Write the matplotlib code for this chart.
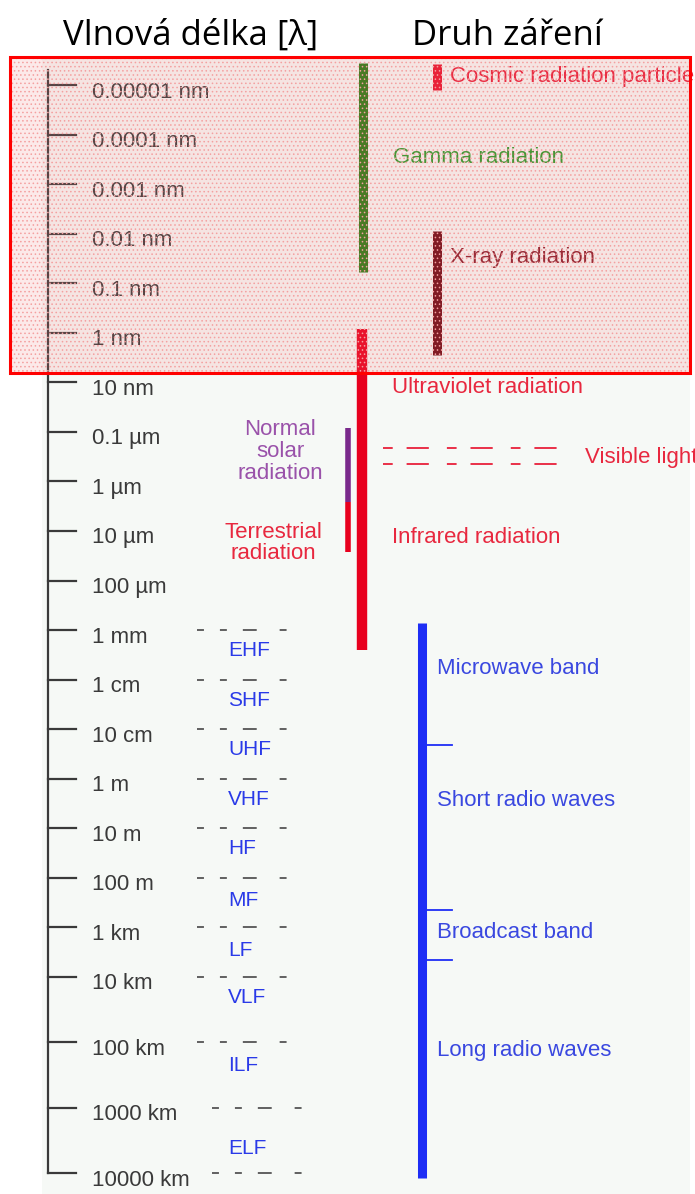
import numpy as np
import matplotlib.pyplot as plt
from matplotlib.patches import Rectangle
from matplotlib.transforms import ScaledTranslation

plt.rcParams['lines.scale_dashes'] = False
plt.rcParams['hatch.linewidth'] = 0.6

# wavelength scale, log10 of metres
tick_exp = list(range(-14, 8))
tick_labels = ['0.00001 nm', '0.0001 nm', '0.001 nm', '0.01 nm', '0.1 nm', '1 nm',
               '10 nm', '0.1 µm', '1 µm', '10 µm', '100 µm', '1 mm', '1 cm',
               '10 cm', '1 m', '10 m', '100 m', '1 km', '10 km', '100 km',
               '1000 km', '10000 km']

# radiation ranges (log10 m): start, end
rad_names = ['gamma', 'cosmic', 'xray', 'uv_ir', 'solar', 'terrestrial', 'radio']
rad_start = [-14.44, -14.42, -11.05, -9.08, -7.08, -5.58, -3.14]
rad_end = [-10.23, -13.90, -8.55, -2.60, -5.58, -4.58, 7.08]
rad_x = [363, 437, 437, 362, 348, 348, 422]
rad_w = [6.5, 6.5, 6.5, 7.5, 4, 4, 6.5]
rad_col = ['#2a7a14', '#e8102c', '#6b0a14', '#e8001e', '#7a2a8c', '#e8001e', '#1e2ef5']

# radio sub-division marks on the blue bar
radio_marks = [-0.68, 2.65, 3.66]
# visible light band
visible = [-6.67, -6.35]

# radio frequency bands between decades
band_names = ['EHF', 'SHF', 'UHF', 'VHF', 'HF', 'MF', 'LF', 'VLF', 'ILF', 'ELF']
band_label_exp = [-2.58, -1.57, -0.58, 0.41, 1.40, 2.45, 3.46, 4.32, 5.35, 6.62]
band_edges = list(range(-3, 8))

# kinds of radiation labels
kind_text = ['Cosmic radiation particles', 'Gamma radiation', 'X-ray radiation',
             'Ultraviolet radiation', 'Visible light', 'Infrared radiation',
             'Microwave band', 'Short radio waves', 'Broadcast band',
             'Long radio waves']
kind_exp = [-14.18, -12.53, -10.51, -7.89, -6.49, -4.86, -2.23, 0.43, 3.11, 5.12]
kind_x = [450, 393, 450, 392, 585, 392, 437, 437, 437, 437]
kind_col = ['#e8203a', '#2a9a2a', '#8a1c2a', '#e8283f', '#e8283f', '#e8283f',
            '#3a48e0', '#3a48e0', '#3a48e0', '#3a48e0']

# piecewise linear scale (decades get wider below 10 km)
P0, S1, S2 = 85.0, 49.55, 65.37
P4 = P0 + 18 * S1


def fwd(e):
    e = np.asarray(e, dtype=float)
    return np.where(e <= 4, P0 + S1 * (e + 14), P4 + S2 * (e - 4))


def inv(p):
    p = np.asarray(p, dtype=float)
    return np.where(p <= P4, -14 + (p - P0) / S1, 4 + (p - P4) / S2)


fig = plt.figure(figsize=(6.95, 11.94), dpi=100)
ax = fig.add_axes([0, 0, 1, 1])
ax.set_yscale('function', functions=(fwd, inv))
ax.set_xlim(0, 695)
ax.set_ylim(float(inv(1194)), float(inv(0)))
ax.axis('off')

font = ['Liberation Sans', 'DejaVu Sans']

# picture background
bg = Rectangle((42, float(inv(57))), 648, float(inv(1194) - inv(57)),
               facecolor='#f6f9f6', edgecolor='none', zorder=0)
ax.add_patch(bg)

# wavelength axis
ax.plot([48, 48], [-14.30, 7], color='#3a3a3a', lw=1.6, zorder=2)
down = ax.transData + ScaledTranslation(0, -0.07, fig.dpi_scale_trans)
for e, lab in zip(tick_exp, tick_labels):
    ax.plot([48, 76], [e, e], color='#3a3a3a', lw=1.6, zorder=2)
    ax.text(92, e, lab, transform=down, va='center', ha='left', fontsize=16,
            color='#3a3a3a', family=font, zorder=2)

# radiation bars
for s, en, x, w, c in zip(rad_start, rad_end, rad_x, rad_w, rad_col):
    ax.plot([x, x], [s, en], color=c, lw=w, solid_capstyle='butt', zorder=3)
for m in radio_marks:
    ax.plot([425, 452], [m, m], color='#1e2ef5', lw=1.3, zorder=3)

# visible light dashes
for v in visible:
    ax.plot([383, 572], [v, v], color='#e8203a', lw=1.3,
            dashes=(7, 10, 16, 13), zorder=2)

# frequency band separators and names
for e in band_edges:
    x0 = 197 if e <= 5 else 212
    ax.plot([x0, x0 + 90], [e, e], color='#555555', lw=1.3,
            dashes=(5, 11.5, 5, 11.5, 10, 16.5), zorder=2)
for name, e in zip(band_names, band_label_exp):
    ax.text(228, e, name, va='center', ha='left', fontsize=15,
            color='#2a3ae8', family=font, zorder=2)

# texts run off the right edge of the picture, as in the source image
for t, e, x, c in zip(kind_text, kind_exp, kind_x, kind_col):
    txt = ax.text(x, e, t, va='center', ha='left', fontsize=16, color=c,
                  family=font, zorder=2)
    txt.set_clip_path(bg)

ax.text(280, -6.6, 'Normal\nsolar\nradiation', va='center', ha='center',
        fontsize=16, color='#9a52aa', family=font, linespacing=1.05, zorder=2)
ax.text(273, -4.75, 'Terrestrial\nradiation', va='center', ha='center',
        fontsize=16, color='#e8283f', family=font, linespacing=1.0, zorder=2)

# highlighted region
box_top, box_bot = float(inv(57)), float(inv(373))
ax.add_patch(Rectangle((10, box_top), 680, box_bot - box_top,
                       facecolor='#f07a7a', alpha=0.16, edgecolor='none', zorder=5))
ax.add_patch(Rectangle((10, box_top), 680, box_bot - box_top,
                       facecolor='none', edgecolor='#f4a0a0', hatch='....',
                       lw=0, zorder=5))
ax.add_patch(Rectangle((10, box_top), 680, box_bot - box_top,
                       facecolor='none', edgecolor='red', lw=2.2, zorder=6))

# headings
fig.text(191 / 695, 1 - 45 / 1194, 'Vlnová délka [λ]', ha='center', va='baseline',
         fontsize=25, family=['Open Sans', 'DejaVu Sans'], color='black')
fig.text(507 / 695, 1 - 45 / 1194, 'Druh záření', ha='center', va='baseline',
         fontsize=25, family=['Open Sans', 'DejaVu Sans'], color='black')

fig.savefig('out.png', dpi=100)
